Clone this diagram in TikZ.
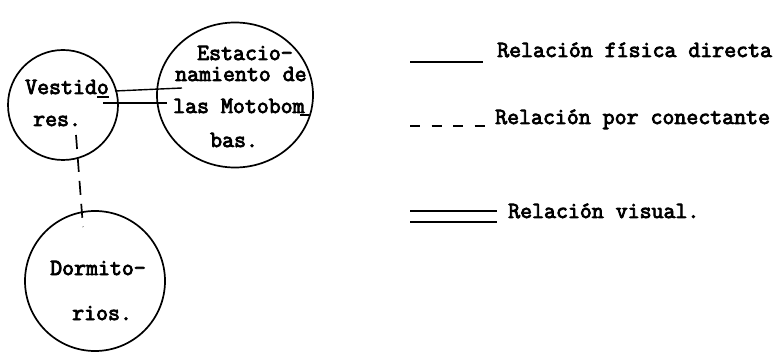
\documentclass[tikz,border=0pt]{standalone}
\usepackage{fontspec}
\newfontfamily\typew{Latin Modern Mono}[FakeBold=3.5]
\usetikzlibrary{shapes.geometric,calc}
\tikzset{
  room/.style={draw, line width=1.7pt, inner sep=0pt},
  txt/.style={anchor=base west, inner sep=0pt, font=\typew\fontsize{23.2}{26}\selectfont},
  fisica/.style={line width=1.5pt},
  visual/.style={line width=1.4pt},
  visualthick/.style={line width=2.4pt},
  conect/.style={line width=1.7pt, dash pattern=on 14pt off 9pt},
  legdash/.style={line width=1.7pt, dash pattern=on 10pt off 11.5pt},
  uscore/.style={line width=1.4pt}
}
\begin{document}
\begin{tikzpicture}[x=1pt,y=-1pt]
\useasboundingbox (0,0) rectangle (783,355);
% rooms
\node[room, circle, minimum size=110pt] (ves) at (63,105) {};
\node[room, ellipse, minimum width=156pt, minimum height=145pt] (est) at (235,95) {};
\node[room, circle, minimum size=140pt] (dor) at (95,281) {};
% texts
\node[txt] (t1) at (25,94) {Vestido};
\node[txt] (t2) at (33,126) {res.};
\node[txt] (t3) at (197,60) {Estacio-};
\node[txt] (t4) at (175,81) {namiento de};
\node[txt] (t5) at (173,113) {las Motobom};
\node[txt] (t6) at (210,147) {bas.};
\node[txt] (t7) at (50,275) {Dormito-};
\node[txt] (t8) at (72,320) {rios.};
% typed underscores
\draw[uscore] ($(ves.center)+(34,-8)$) -- ($(ves.center)+(46,-8)$);
\draw[uscore] ($(est.center)+(65,20)$) -- ($(est.center)+(74,20)$);
% visual relation (double line)
\draw[visual] ($(ves.center)+(52,-14)$) -- ($(est.center)+(-53,-7)$);
\draw[visualthick] ($(ves.center)+(40,-2)$) -- ($(est.center)+(-68,8)$);
% connector relation
\draw[conect] ($(ves.center)+(13,30)$) -- ($(dor.center)+(-12,-54)$);
% legend
\node[txt] (l1) at (497,57) {Relación física directa};
\node[txt] (l2) at (495,124) {Relación por conectante};
\node[txt] (l3) at (508,218) {Relación visual.};
\coordinate (a1) at (410,62);
\coordinate (a2) at (410,126);
\coordinate (a3) at (410,211);
\coordinate (a4) at (410,222);
\draw[fisica] (a1) -- ++(73,0);
\draw[legdash] (a2) -- ++(80,0);
\draw[visual] (a3) -- ++(87,0);
\draw[visual] (a4) -- ++(87,0);
\end{tikzpicture}
\end{document}
